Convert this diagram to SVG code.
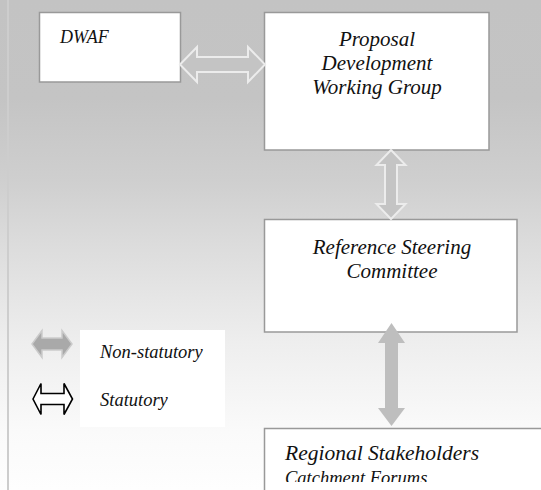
<svg xmlns="http://www.w3.org/2000/svg" width="541" height="490" viewBox="0 0 541 490">
  <defs>
    <linearGradient id="bgGrad" x1="0" y1="0" x2="0" y2="1">
      <stop offset="0" stop-color="#c3c3c3"/>
      <stop offset="0.2" stop-color="#c4c4c4"/>
      <stop offset="0.37" stop-color="#cfcfcf"/>
      <stop offset="0.5" stop-color="#dcdcdc"/>
      <stop offset="0.7" stop-color="#eeeeee"/>
      <stop offset="0.88" stop-color="#fafafa"/>
      <stop offset="1" stop-color="#fefefe"/>
    </linearGradient>
    <clipPath id="bottomClip">
      <rect x="264" y="428" width="280" height="54"/>
    </clipPath>
    <style>
      .box { fill: #ffffff; stroke: #999999; stroke-width: 1.5; }
      .lbl { font-family: "Liberation Serif", "Times New Roman", serif; font-style: italic; fill: #111111; }
      .open { fill: #c4c4c4; stroke: #ececec; stroke-width: 2; stroke-linejoin: miter; }
      .solid { fill: #bebebe; stroke: none; }
    </style>
  </defs>

  <!-- page background -->
  <rect x="0" y="0" width="541" height="490" fill="url(#bgGrad)"/>
  <line x1="8" y1="0" x2="8" y2="490" stroke="#cdcdcd" stroke-width="2"/>

  <!-- nodes -->
  <g id="dwaf">
    <rect class="box" x="39.5" y="12.5" width="141" height="69.5"/>
    <text class="lbl" x="60" y="43" font-size="18">DWAF</text>
  </g>

  <g id="proposal-group">
    <rect class="box" x="264.5" y="12.5" width="224.5" height="137.5"/>
    <text class="lbl" x="377" y="46" font-size="21" text-anchor="middle">Proposal</text>
    <text class="lbl" x="377" y="70" font-size="21" text-anchor="middle">Development</text>
    <text class="lbl" x="377" y="94" font-size="21" text-anchor="middle">Working Group</text>
  </g>

  <g id="steering-committee">
    <rect class="box" x="264.5" y="219.5" width="252.5" height="112.5"/>
    <text class="lbl" x="392" y="254" font-size="21" text-anchor="middle">Reference Steering</text>
    <text class="lbl" x="392" y="278" font-size="21" text-anchor="middle">Committee</text>
  </g>

  <g id="regional-stakeholders">
    <rect class="box" x="264.5" y="428.5" width="290" height="80"/>
    <g clip-path="url(#bottomClip)">
      <text class="lbl" x="285" y="460" font-size="21.5">Regional Stakeholders</text>
      <text class="lbl" x="285" y="484" font-size="18.5">Catchment Forums</text>
    </g>
  </g>

  <!-- connectors -->
  <g id="connectors">
    <polygon class="open" points="180,64.5 197,47 197,57 248,57 248,47 265,64.5 248,82 248,72 197,72 197,82"/>
    <polygon class="open" points="391,150 405.5,165 397,165 397,204 405.5,204 391,219 376.5,204 385,204 385,165 376.5,165"/>
    <polygon class="solid" points="391.5,323 405,343 398,343 398,408 405,408 391.5,426 378,408 385,408 385,343 378,343"/>
  </g>

  <!-- legend -->
  <g id="legend">
    <rect x="80" y="330" width="145" height="97" fill="#ffffff"/>
    <polygon points="32,344 42,330.5 42,338 62,338 62,330.5 72,344 62,357.5 62,350 42,350 42,357.5" fill="#a9a9a9" stroke="#cbcbcb" stroke-width="1.5"/>
    <text class="lbl" x="100" y="358" font-size="18.5">Non-statutory</text>
    <polygon points="33,399 41,383.5 41,393.5 64,393.5 64,383.5 72.5,399 64,414.5 64,404.5 41,404.5 41,414.5" fill="#ffffff" stroke="#000000" stroke-width="1.6"/>
    <text class="lbl" x="100" y="406" font-size="18.5">Statutory</text>
  </g>
</svg>
